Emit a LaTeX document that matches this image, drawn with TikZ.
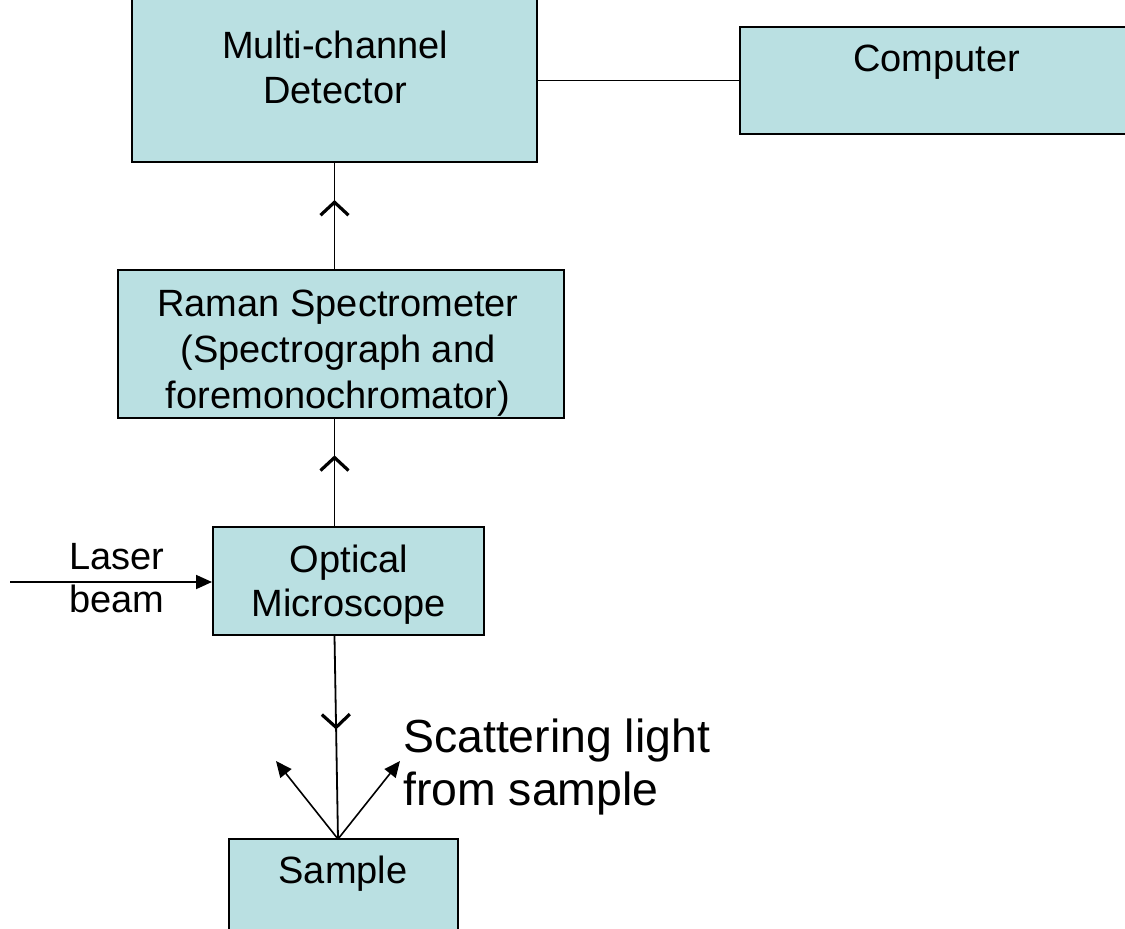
\documentclass[tikz,border=0pt]{standalone}
\usepackage{fontspec}
\setmainfont{Liberation Sans}
\usetikzlibrary{arrows.meta,decorations.markings}
\definecolor{boxfill}{RGB}{186,224,226}
\tikzset{
  box/.style={draw=black, line width=2pt, fill=boxfill, rectangle, inner sep=0pt},
  conn/.style={draw=black, line width=1.8pt},
  txt/.style={inner sep=0pt, font=\fontsize{38}{#1}\selectfont},
  txt/.default=45,
  chev/.style={postaction={decorate}, decoration={markings,
    mark=at position #1 with {\draw[line width=3.2pt, line cap=butt, line join=miter] (-13pt,14pt) -- (0pt,0pt) -- (-13pt,-14pt);}}},
  solidtip/.style={-{Triangle[length=16pt,width=14pt]}}
}
\begin{document}
\begin{tikzpicture}[x=1pt,y=-1pt]
\useasboundingbox (0,0) rectangle (1125,929);
\clip (0,0) rectangle (1125,929);
% boxes
\node[box, minimum width=405pt, minimum height=172pt] (det) at (334.5,76) {};
\node[box, minimum width=400pt, minimum height=107pt] (comp) at (940,80.5) {};
\node[box, minimum width=446pt, minimum height=148pt] (raman) at (341,344) {};
\node[box, minimum width=271pt, minimum height=108pt] (opt) at (348.5,581) {};
\node[box, minimum width=229pt, minimum height=111pt] (sample) at (343.5,894.5) {};
% texts (base anchor = baseline of last line)
\node[txt=45, anchor=base, align=center] (tdet) at (335,103.5) {Multi-channel\\Detector};
\node[txt=45, anchor=base] (tcomp) at (936.5,71) {Computer};
\node[txt=46, anchor=base, align=center] (traman) at (338,408) {Raman Spectrometer\\(Spectrograph and\\foremonochromator)};
\node[txt=44, anchor=base, align=center] (topt) at (349,616) {Optical\\Microscope};
\node[txt=45, anchor=base] (tsample) at (343,883) {Sample};
\node[txt=43, anchor=base west, align=left] (tlaser) at (69,612) {Laser\\beam};
\node[inner sep=0pt, font=\fontsize{46.4}{53}\selectfont, anchor=base west, align=left] (tscat) at (403,805) {Scattering light\\from sample};
% connectors
\draw[conn] (det.east |- comp.west) -- (comp.west);
\draw[conn, chev=0.63] (raman.north -| det.south) -- (det.south);
\draw[conn, chev=0.64] (opt.north -| det.south) -- (raman.south -| det.south);
\coordinate (sp) at (338,839);
\draw[conn, chev=0.45] (opt.south -| det.south) -- (sp);
\coordinate (ls) at (10,582);
\draw[conn, solidtip] (ls) -- (opt.west |- ls);
\coordinate (sl) at (276,761);
\coordinate (sr) at (400,761);
\draw[conn, line width=1.6pt, solidtip] (sp) -- (sl);
\draw[conn, line width=1.6pt, solidtip] (sp) -- (sr);
\end{tikzpicture}
\end{document}
